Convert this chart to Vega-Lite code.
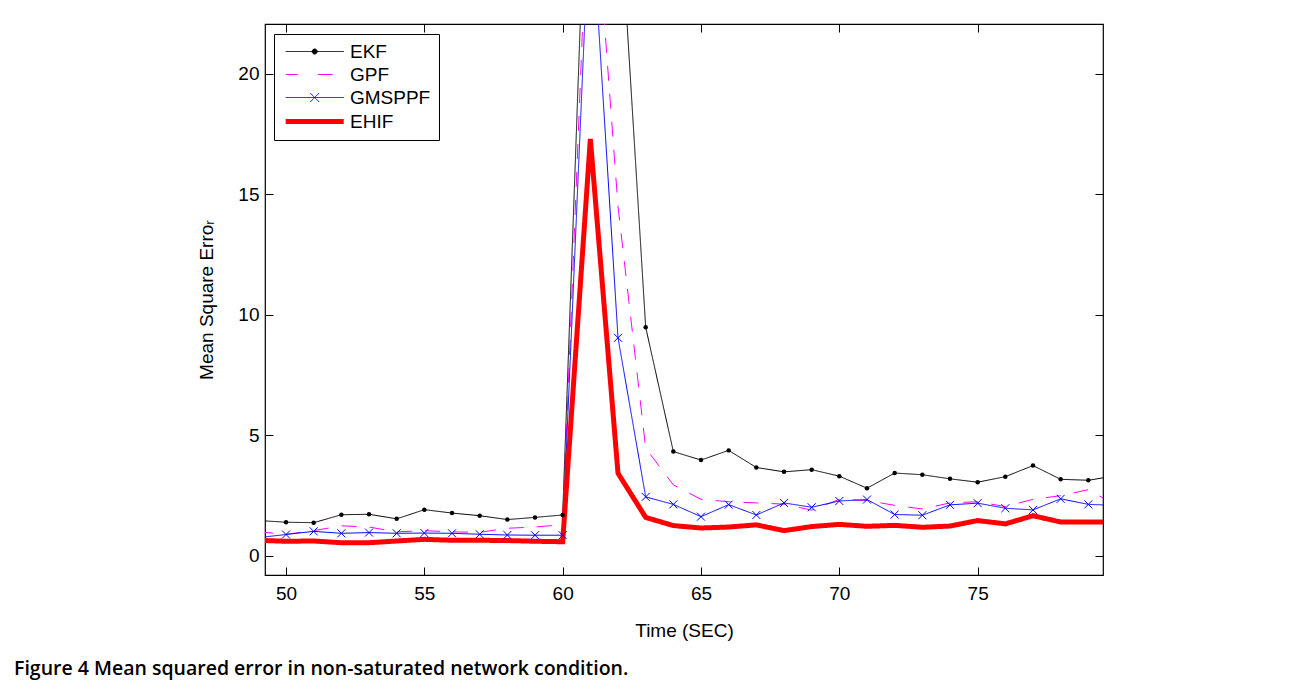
{
  "$schema": "https://vega.github.io/schema/vega-lite/v6.json",
  "autosize": "none",
  "width": 838,
  "height": 551,
  "padding": {"left": 265, "top": 24, "right": 193, "bottom": 114},
  "background": "white",
  "title": {
    "text": "Figure 4 Mean squared error in non-saturated network condition.",
    "orient": "bottom", "anchor": "start", "frame": "group",
    "font": "Open Sans", "fontSize": 19.5, "fontWeight": 600, "color": "black",
    "dx": -251, "offset": 20
  },
  "config": {
    "view": {"stroke": "black", "strokeWidth": 1.2},
    "axis": {
      "domain": false, "grid": false,
      "labelFont": "Liberation Sans", "labelFontSize": 19, "labelColor": "black",
      "tickColor": "black", "tickWidth": 1, "tickSize": -8,
      "titleFont": "Liberation Sans", "titleFontSize": 19, "titleFontWeight": "normal", "titleColor": "black"
    }
  },
  "data": {"values": [
    {"t":49,"series":"EKF","v":1.47},{"t":50,"series":"EKF","v":1.40},{"t":51,"series":"EKF","v":1.38},{"t":52,"series":"EKF","v":1.71},{"t":53,"series":"EKF","v":1.73},{"t":54,"series":"EKF","v":1.54},{"t":55,"series":"EKF","v":1.92},{"t":56,"series":"EKF","v":1.78},{"t":57,"series":"EKF","v":1.67},{"t":58,"series":"EKF","v":1.51},{"t":59,"series":"EKF","v":1.60},{"t":60,"series":"EKF","v":1.70},{"t":61,"series":"EKF","v":33.8},{"t":62,"series":"EKF","v":28.2},{"t":63,"series":"EKF","v":9.49},{"t":64,"series":"EKF","v":4.33},{"t":65,"series":"EKF","v":3.98},{"t":66,"series":"EKF","v":4.38},{"t":67,"series":"EKF","v":3.67},{"t":68,"series":"EKF","v":3.49},{"t":69,"series":"EKF","v":3.58},{"t":70,"series":"EKF","v":3.31},{"t":71,"series":"EKF","v":2.81},{"t":72,"series":"EKF","v":3.44},{"t":73,"series":"EKF","v":3.37},{"t":74,"series":"EKF","v":3.20},{"t":75,"series":"EKF","v":3.06},{"t":76,"series":"EKF","v":3.29},{"t":77,"series":"EKF","v":3.75},{"t":78,"series":"EKF","v":3.18},{"t":79,"series":"EKF","v":3.14},{"t":80,"series":"EKF","v":3.33},
    {"t":49,"series":"GPF","v":1.0},{"t":50,"series":"GPF","v":0.9},{"t":51,"series":"GPF","v":1.05},{"t":52,"series":"GPF","v":1.25},{"t":53,"series":"GPF","v":1.2},{"t":54,"series":"GPF","v":1.0},{"t":55,"series":"GPF","v":1.05},{"t":56,"series":"GPF","v":1.0},{"t":57,"series":"GPF","v":0.98},{"t":58,"series":"GPF","v":1.15},{"t":59,"series":"GPF","v":1.2},{"t":60,"series":"GPF","v":1.3},{"t":61,"series":"GPF","v":30.0},{"t":62,"series":"GPF","v":14.5},{"t":63,"series":"GPF","v":4.47},{"t":64,"series":"GPF","v":2.95},{"t":65,"series":"GPF","v":2.35},{"t":66,"series":"GPF","v":2.25},{"t":67,"series":"GPF","v":2.2},{"t":68,"series":"GPF","v":2.15},{"t":69,"series":"GPF","v":1.9},{"t":70,"series":"GPF","v":2.35},{"t":71,"series":"GPF","v":2.3},{"t":72,"series":"GPF","v":2.1},{"t":73,"series":"GPF","v":1.95},{"t":74,"series":"GPF","v":2.2},{"t":75,"series":"GPF","v":2.25},{"t":76,"series":"GPF","v":2.05},{"t":77,"series":"GPF","v":2.35},{"t":78,"series":"GPF","v":2.5},{"t":79,"series":"GPF","v":2.75},{"t":80,"series":"GPF","v":2.1},
    {"t":49,"series":"GMSPPF","v":0.76},{"t":50,"series":"GMSPPF","v":0.89},{"t":51,"series":"GMSPPF","v":1.02},{"t":52,"series":"GMSPPF","v":0.94},{"t":53,"series":"GMSPPF","v":0.97},{"t":54,"series":"GMSPPF","v":0.94},{"t":55,"series":"GMSPPF","v":0.95},{"t":56,"series":"GMSPPF","v":0.94},{"t":57,"series":"GMSPPF","v":0.90},{"t":58,"series":"GMSPPF","v":0.87},{"t":59,"series":"GMSPPF","v":0.86},{"t":60,"series":"GMSPPF","v":0.86},{"t":61,"series":"GMSPPF","v":27.5},{"t":62,"series":"GMSPPF","v":9.05},{"t":63,"series":"GMSPPF","v":2.45},{"t":64,"series":"GMSPPF","v":2.14},{"t":65,"series":"GMSPPF","v":1.63},{"t":66,"series":"GMSPPF","v":2.13},{"t":67,"series":"GMSPPF","v":1.70},{"t":68,"series":"GMSPPF","v":2.20},{"t":69,"series":"GMSPPF","v":2.02},{"t":70,"series":"GMSPPF","v":2.28},{"t":71,"series":"GMSPPF","v":2.34},{"t":72,"series":"GMSPPF","v":1.72},{"t":73,"series":"GMSPPF","v":1.69},{"t":74,"series":"GMSPPF","v":2.12},{"t":75,"series":"GMSPPF","v":2.19},{"t":76,"series":"GMSPPF","v":1.98},{"t":77,"series":"GMSPPF","v":1.91},{"t":78,"series":"GMSPPF","v":2.37},{"t":79,"series":"GMSPPF","v":2.14},{"t":80,"series":"GMSPPF","v":2.10},
    {"t":49,"series":"EHIF","v":0.65},{"t":50,"series":"EHIF","v":0.61},{"t":51,"series":"EHIF","v":0.62},{"t":52,"series":"EHIF","v":0.55},{"t":53,"series":"EHIF","v":0.55},{"t":54,"series":"EHIF","v":0.62},{"t":55,"series":"EHIF","v":0.69},{"t":56,"series":"EHIF","v":0.65},{"t":57,"series":"EHIF","v":0.65},{"t":58,"series":"EHIF","v":0.64},{"t":59,"series":"EHIF","v":0.61},{"t":60,"series":"EHIF","v":0.59},{"t":61,"series":"EHIF","v":17.3},{"t":62,"series":"EHIF","v":3.43},{"t":63,"series":"EHIF","v":1.60},{"t":64,"series":"EHIF","v":1.26},{"t":65,"series":"EHIF","v":1.16},{"t":66,"series":"EHIF","v":1.20},{"t":67,"series":"EHIF","v":1.29},{"t":68,"series":"EHIF","v":1.05},{"t":69,"series":"EHIF","v":1.22},{"t":70,"series":"EHIF","v":1.31},{"t":71,"series":"EHIF","v":1.23},{"t":72,"series":"EHIF","v":1.27},{"t":73,"series":"EHIF","v":1.19},{"t":74,"series":"EHIF","v":1.24},{"t":75,"series":"EHIF","v":1.47},{"t":76,"series":"EHIF","v":1.33},{"t":77,"series":"EHIF","v":1.67},{"t":78,"series":"EHIF","v":1.41},{"t":79,"series":"EHIF","v":1.41},{"t":80,"series":"EHIF","v":1.41}
  ]},
  "resolve": {"axis": {"x": "independent", "y": "independent"}},
  "layer": [
    {
      "mark": {"type": "line", "clip": true},
      "encoding": {
        "x": {"field": "t", "type": "quantitative",
          "scale": {"domain": [49.24, 79.53], "nice": false, "zero": false},
          "axis": {"orient": "bottom", "values": [50, 55, 60, 65, 70, 75], "title": "Time (SEC)", "labelPadding": 17, "titlePadding": 18}},
        "y": {"field": "v", "type": "quantitative",
          "scale": {"domain": [-0.79, 22.07], "nice": false, "zero": false},
          "axis": {"orient": "left", "values": [0, 5, 10, 15, 20], "title": "Mean Square Erroᵣ", "labelPadding": 14, "titlePadding": 21}},
        "color": {"field": "series", "type": "nominal",
          "scale": {"domain": ["EKF", "GPF", "GMSPPF", "EHIF"], "range": ["#000000", "#ff00ff", "#0000ff", "#ff0000"]},
          "legend": {
            "orient": "none", "legendX": 9, "legendY": 10, "title": null,
            "labelFont": "Liberation Sans", "labelFontSize": 19, "labelColor": "black",
            "symbolSize": 196, "labelOffset": 49, "rowPadding": 3, "padding": 8,
            "strokeColor": "black", "fillColor": "white",
            "encode": {"symbols": {"update": {
              "shape": {"signal": "datum.value === 'EKF' ? 'M-0.83,0H7.46M2.95,0a0.36,0.36 0 1,0 0.72,0a0.36,0.36 0 1,0 -0.72,0' : datum.value === 'GPF' ? 'M-0.83,0H0.89M3.74,0H6.03' : datum.value === 'GMSPPF' ? 'M-0.83,0H7.46M2.67,-0.64L3.95,0.64M2.67,0.64L3.95,-0.64' : 'M-0.83,0H7.46'"},
              "stroke": {"signal": "datum.value === 'EKF' ? '#000000' : datum.value === 'GPF' ? '#ff00ff' : datum.value === 'GMSPPF' ? '#0000ff' : '#ff0000'"},
              "fill": {"signal": "datum.value === 'EKF' ? 'black' : 'transparent'"},
              "strokeWidth": {"signal": "datum.value === 'EHIF' ? 5 : 1"},
              "strokeDash": {"value": []},
              "opacity": {"value": 1}
            }}}
          }},
        "strokeDash": {"field": "series", "type": "nominal",
          "scale": {"domain": ["EKF", "GPF", "GMSPPF", "EHIF"], "range": [[1, 0], [15, 13], [1, 0], [1, 0]]}},
        "strokeWidth": {"field": "series", "type": "ordinal",
          "scale": {"type": "ordinal", "domain": ["EKF", "GPF", "GMSPPF", "EHIF"], "range": [1, 1, 1, 5]}},
        "order": {"field": "t", "type": "quantitative"}
      }
    },
    {
      "transform": [{"filter": "datum.series === 'EKF'"}],
      "mark": {"type": "point", "shape": "circle", "filled": true, "size": 20, "color": "black", "opacity": 1, "clip": true},
      "encoding": {
        "x": {"field": "t", "type": "quantitative",
          "axis": {"orient": "top", "values": [50, 55, 60, 65, 70, 75], "labels": false, "title": null}},
        "y": {"field": "v", "type": "quantitative",
          "axis": {"orient": "right", "values": [0, 5, 10, 15, 20], "labels": false, "title": null}}
      }
    },
    {
      "transform": [{"filter": "datum.series === 'GMSPPF'"}],
      "mark": {"type": "point", "shape": "M-1,-1L1,1M-1,1L1,-1", "filled": false, "size": 64, "color": "#0000ff", "strokeWidth": 1, "opacity": 1, "clip": true},
      "encoding": {
        "x": {"field": "t", "type": "quantitative", "axis": null},
        "y": {"field": "v", "type": "quantitative", "axis": null}
      }
    }
  ]
}
